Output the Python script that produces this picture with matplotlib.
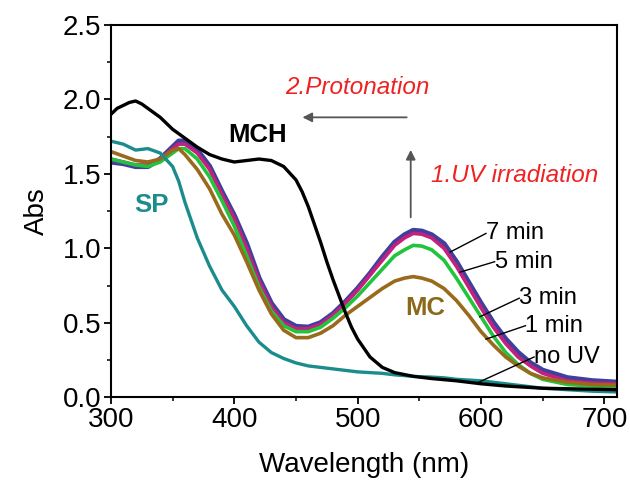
import numpy as np
import matplotlib
matplotlib.use("Agg")
import matplotlib.pyplot as plt
from matplotlib.ticker import MultipleLocator, FormatStrFormatter

plt.rcParams.update({
    "font.family":      ["Liberation Sans", "DejaVu Sans"],
    "font.size":        20,
    "axes.linewidth":   1.5,
    "xtick.direction":  "out",
    "ytick.direction":  "out",
    "xtick.major.size": 5,
    "ytick.major.size": 5,
    "xtick.minor.size": 3,
    "ytick.minor.size": 3,
    "xtick.major.width": 1.3,
    "ytick.major.width": 1.3,
    "xtick.minor.width": 1.1,
    "ytick.minor.width": 1.1,
})

# ---------------------------------------------------------------------------
# Datos (nm, Abs)
# ---------------------------------------------------------------------------
wl = [300, 310, 320, 330, 340, 350, 355, 360, 370, 380, 390, 400, 410, 420,
      430, 440, 450, 460, 470, 480, 490, 500, 510, 520, 530, 538, 545, 552,
      560, 570, 580, 590, 600, 610, 620, 630, 640, 650, 670, 690, 710]

abs_7min = [1.58, 1.57, 1.55, 1.55, 1.60, 1.68, 1.72, 1.72, 1.66, 1.55, 1.38,
            1.22, 1.03, 0.80, 0.63, 0.52, 0.475, 0.47, 0.50, 0.56, 0.64, 0.73,
            0.83, 0.94, 1.04, 1.09, 1.12, 1.115, 1.09, 1.03, 0.91, 0.77, 0.63,
            0.50, 0.39, 0.30, 0.23, 0.18, 0.13, 0.11, 0.10]
abs_5min = [1.60, 1.58, 1.56, 1.56, 1.60, 1.67, 1.70, 1.70, 1.64, 1.53, 1.36,
            1.20, 1.00, 0.78, 0.61, 0.50, 0.46, 0.46, 0.49, 0.55, 0.63, 0.72,
            0.82, 0.92, 1.02, 1.07, 1.10, 1.095, 1.07, 1.00, 0.88, 0.74, 0.60,
            0.47, 0.36, 0.27, 0.21, 0.16, 0.11, 0.095, 0.09]
abs_3min = [1.60, 1.58, 1.56, 1.55, 1.58, 1.64, 1.67, 1.67, 1.60, 1.48, 1.32,
            1.15, 0.95, 0.74, 0.58, 0.48, 0.44, 0.44, 0.47, 0.53, 0.60, 0.68,
            0.77, 0.86, 0.95, 0.99, 1.02, 1.015, 0.99, 0.92, 0.80, 0.67, 0.54,
            0.41, 0.30, 0.22, 0.16, 0.12, 0.085, 0.075, 0.07]
abs_1min = [1.65, 1.62, 1.59, 1.58, 1.60, 1.66, 1.67, 1.63, 1.53, 1.40, 1.23,
            1.09, 0.91, 0.72, 0.56, 0.45, 0.40, 0.40, 0.43, 0.48, 0.55, 0.61,
            0.67, 0.73, 0.78, 0.80, 0.81, 0.80, 0.78, 0.73, 0.65, 0.55, 0.44,
            0.35, 0.27, 0.21, 0.16, 0.13, 0.10, 0.085, 0.08]
abs_noUV = [1.72, 1.70, 1.66, 1.67, 1.64, 1.55, 1.45, 1.31, 1.07, 0.88, 0.72,
            0.61, 0.48, 0.37, 0.30, 0.26, 0.23, 0.21, 0.20, 0.19, 0.18, 0.17,
            0.165, 0.16, 0.15, 0.145, 0.14, 0.137, 0.135, 0.13, 0.12, 0.115,
            0.11, 0.10, 0.09, 0.08, 0.07, 0.06, 0.05, 0.04, 0.035]

wl_mch  = [300, 305, 310, 315, 320, 325, 330, 340, 350, 360, 370, 380, 390,
           400, 410, 420, 430, 440, 450, 455, 460, 465, 470, 475, 480, 485,
           490, 495, 500, 510, 520, 530, 545, 560, 580, 600, 620, 650, 680, 710]
abs_mch = [1.90, 1.94, 1.96, 1.98, 1.99, 1.97, 1.94, 1.88, 1.80, 1.74, 1.68,
           1.63, 1.60, 1.58, 1.59, 1.60, 1.59, 1.55, 1.46, 1.38, 1.28, 1.16,
           1.04, 0.91, 0.79, 0.68, 0.57, 0.47, 0.39, 0.27, 0.20, 0.165, 0.14,
           0.125, 0.11, 0.09, 0.075, 0.06, 0.055, 0.05]

curvas = [
    ("7 min", abs_7min, "#40409c", 3.8),
    ("5 min", abs_5min, "#c4217e", 2.6),
    ("3 min", abs_3min, "#22c43c", 2.6),
    ("1 min", abs_1min, "#9a6a1c", 2.6),
    ("no UV", abs_noUV, "#1b8c8c", 2.4),
]

# etiquetas: (texto, punto en curva, inicio del texto)
etiquetas = [
    ("7 min", (575, 0.975), (604, 1.10)),
    ("5 min", (583, 0.84),  (611, 0.91)),
    ("3 min", (599, 0.54),  (631, 0.665)),
    ("1 min", (604, 0.39),  (636, 0.48)),
    ("no UV", (598, 0.10),  (643, 0.27)),
]

fig = plt.figure(figsize=(6.3, 4.82), dpi=100)
ax = fig.add_axes([0.176, 0.176, 0.803, 0.772])

for nombre, y, c, lw in curvas:
    ax.plot(wl, y, color=c, lw=lw, solid_joinstyle="round")
ax.plot(wl_mch, abs_mch, color="black", lw=2.4, solid_joinstyle="round")

for txt, (x0, y0), (x1, y1) in etiquetas:
    ax.plot([x0, x1], [y0, y1], color="black", lw=1.0)
    ax.text(x1, y1, txt, fontsize=17, ha="left", va="center")

ax.text(419, 1.76, "MCH", fontsize=18.5, fontweight="bold", ha="center", va="center")
ax.text(333, 1.29, "SP", fontsize=18.5, fontweight="bold", color="#1b8c8c",
        ha="center", va="center")
ax.text(555, 0.60, "MC", fontsize=18.5, fontweight="bold", color="#8a6a1a",
        ha="center", va="center")

ax.text(500, 2.08, "2.Protonation", fontsize=17.5, style="italic", color="#ee2222",
        ha="center", va="center")
ax.text(627, 1.49, "1.UV irradiation", fontsize=17.5, style="italic", color="#ee2222",
        ha="center", va="center")

ax.annotate("", xy=(453, 1.88), xytext=(542, 1.88),
            arrowprops=dict(arrowstyle="-|>", color="#555555", lw=1.3,
                            mutation_scale=14))
ax.annotate("", xy=(543, 1.68), xytext=(543, 1.19),
            arrowprops=dict(arrowstyle="-|>", color="#555555", lw=1.3,
                            mutation_scale=14))

ax.set_xlim(300, 710)
ax.set_ylim(0, 2.5)
ax.xaxis.set_major_locator(MultipleLocator(100))
ax.xaxis.set_minor_locator(MultipleLocator(50))
ax.yaxis.set_major_locator(MultipleLocator(0.5))
ax.yaxis.set_minor_locator(MultipleLocator(0.25))
ax.yaxis.set_major_formatter(FormatStrFormatter("%.1f"))
ax.tick_params(labelsize=20, pad=2)
ax.set_xlabel("Wavelength (nm)", fontsize=20, labelpad=14)
ax.set_ylabel("Abs", fontsize=20, labelpad=9)

fig.savefig("out.png", dpi=100)
